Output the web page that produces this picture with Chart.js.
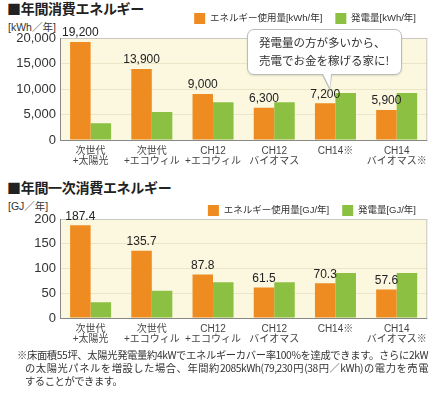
<!DOCTYPE html>
<html><head><meta charset="utf-8">
<script src="https://cdn.jsdelivr.net/npm/chart.js@4.4.1/dist/chart.umd.min.js"></script>
<style>
body{margin:0;background:#fff;width:433px;height:395px;position:relative;overflow:hidden;font-family:"Liberation Sans","Noto Sans CJK JP",sans-serif;color:#333}
.box{position:absolute;left:0;width:433px}
.title{position:absolute;left:7px;font-size:14px;font-weight:bold;color:#222;font-family:"Noto Sans CJK JP",sans-serif;letter-spacing:-0.3px;white-space:nowrap}
.unit{position:absolute;left:8px;font-size:10.5px;color:#333;white-space:nowrap}
.bubble{position:absolute;left:247px;top:29px;width:155px;height:46px;background:#fff;border:1px solid #bbb;border-radius:7px;box-shadow:0 1px 2px rgba(0,0,0,.12);font-size:11.5px;line-height:18px;color:#333;padding:3px 0 0 11px;box-sizing:border-box;font-family:"Noto Sans CJK JP",sans-serif;white-space:nowrap}
.tri1{position:absolute;left:322px;top:75px;width:0;height:0;border-left:8px solid transparent;border-right:2px solid transparent;border-top:16px solid #bbb}
.tri2{position:absolute;left:323px;top:74px;width:0;height:0;border-left:7px solid transparent;border-right:1.5px solid transparent;border-top:14px solid #fff}
.note{position:absolute;left:17px;top:348px;font-size:10.3px;line-height:13px;color:#333;font-family:"Noto Sans CJK JP",sans-serif;letter-spacing:-0.45px}
.note div{margin-left:8px;width:403px;white-space:normal;text-align:justify;text-align-last:justify}
.note div.f{margin-left:0;width:411px}
.note div.l{text-align-last:left}
</style></head><body>
<div class="title" style="top:-2px">■年間消費エネルギー</div>
<div class="unit" style="top:19px">[kWh／年]</div>
<div class="box" style="top:0;height:172px"><canvas id="c1"></canvas></div>
<div class="title" style="top:177px">■年間一次消費エネルギー</div>
<div class="unit" style="top:198px">[GJ／年]</div>
<div class="box" style="top:192px;height:156px"><canvas id="c2"></canvas></div>
<div class="bubble">発電量の方が多いから、<br>売電でお金を稼げる家に!</div>
<div class="tri1"></div><div class="tri2"></div>
<div class="note"><div class="f">※床面積55坪、太陽光発電量約4kWでエネルギーカバー率100%を達成できます。さらに2kW</div><div>の太陽光パネルを増設した場合、年間約2085kWh(79,230円(38円／kWh)の電力を売電</div><div class="l">することができます。</div></div>
<script>
const categories = [["次世代","+太陽光"],["次世代","+エコウィル"],["CH12","+エコウィル"],["CH12","バイオマス"],["CH14※",""],["CH14","バイオマス※"]];
const usageKWh = [19200,13900,9000,6300,7200,5900];
const genKWh = [3300,5500,7400,7400,9200,9200];
const usageGJ = [187.4,135.7,87.8,61.5,70.3,57.6];
const genGJ = [32,55,72,72,91,91];
const ticksKWh = [0,5000,10000,15000,20000];
const ticksGJ = [0,50,100,150,200];
const legend1 = ["エネルギー使用量[kWh/年]","発電量[kWh/年]"];
const legend2 = ["エネルギー使用量[GJ/年]","発電量[GJ/年]"];

const ORANGE='#ee8c22', GREEN='#8cc043';
const FONT='"Liberation Sans","Noto Sans CJK JP",sans-serif';
const comma=v=>Number(v).toLocaleString('en-US');
const fixed1=v=>Number(v).toFixed(1);
const valFormats={c1:comma,c2:fixed1};
const legendHeights={c1:38,c2:27};
const xAxisHeights={c1:32,c2:30};

const bgPlugin={id:'bg',
 beforeInit(c){const lg=c.legend;if(lg){const f=lg.fit;lg.fit=function(){f.call(this);this.height=legendHeights[c.canvas.id];};}},
 beforeDraw(c){const a=c.chartArea,x=c.ctx;x.save();x.fillStyle='#fbf8df';x.fillRect(a.left,a.top,a.right-a.left,a.bottom-a.top);x.restore();},
 afterDatasetsDraw(c){const a=c.chartArea,x=c.ctx;x.save();x.strokeStyle='#c8c8c0';x.lineWidth=1;x.strokeRect(a.left+0.5,a.top+0.5,a.right-a.left-1,a.bottom-a.top);x.strokeStyle='#888';x.beginPath();x.moveTo(a.left,a.bottom+0.5);x.lineTo(a.right,a.bottom+0.5);x.moveTo(a.left+0.5,a.top);x.lineTo(a.left+0.5,a.bottom);x.stroke();
 const fmt=valFormats[c.canvas.id];const m=c.getDatasetMeta(0);x.fillStyle='#222';x.font='12px '+FONT;x.textAlign='center';x.textBaseline='bottom';
 m.data.forEach((b,i)=>{x.fillText(fmt(c.data.datasets[0].data[i]),b.x,b.y-3);});x.restore();}};

function make(id,usage,gen,ticks,labels,fmtTick){
 return new Chart(document.getElementById(id),{type:'bar',
  data:{labels:categories,datasets:[{label:labels[0],data:usage,backgroundColor:ORANGE},{label:labels[1],data:gen,backgroundColor:GREEN}]},
  options:{responsive:true,maintainAspectRatio:false,animation:false,
   layout:{padding:{top:0,right:4,left:0,bottom:0}},
   datasets:{bar:{barPercentage:1,categoryPercentage:0.67}},
   plugins:{tooltip:{enabled:false},
    legend:{position:'top',align:'end',labels:{boxWidth:11,boxHeight:11,padding:13,color:'#333',font:{size:9.5,family:FONT}}}},
   scales:{
    x:{grid:{display:false,drawTicks:false},border:{display:false},afterFit(s){s.height=xAxisHeights[id];},ticks:{color:'#444',padding:6,maxRotation:0,minRotation:0,autoSkip:false,font:{size:10,family:FONT,lineHeight:1.0}}},
    y:{min:ticks[0],max:ticks[ticks.length-1],afterBuildTicks(s){s.ticks=ticks.map(v=>({value:v}));},
     afterFit(s){s.width=60;},
     grid:{color:'#ebe6c8',drawTicks:false},border:{display:false},
     ticks:{padding:4,autoSkip:false,color:'#333',font:{size:13,family:FONT},callback:fmtTick}}}},
  plugins:[bgPlugin]});
}
make('c1',usageKWh,genKWh,ticksKWh,legend1,v=>comma(v));
make('c2',usageGJ,genGJ,ticksGJ,legend2,v=>String(v));
</script>
</body></html>
